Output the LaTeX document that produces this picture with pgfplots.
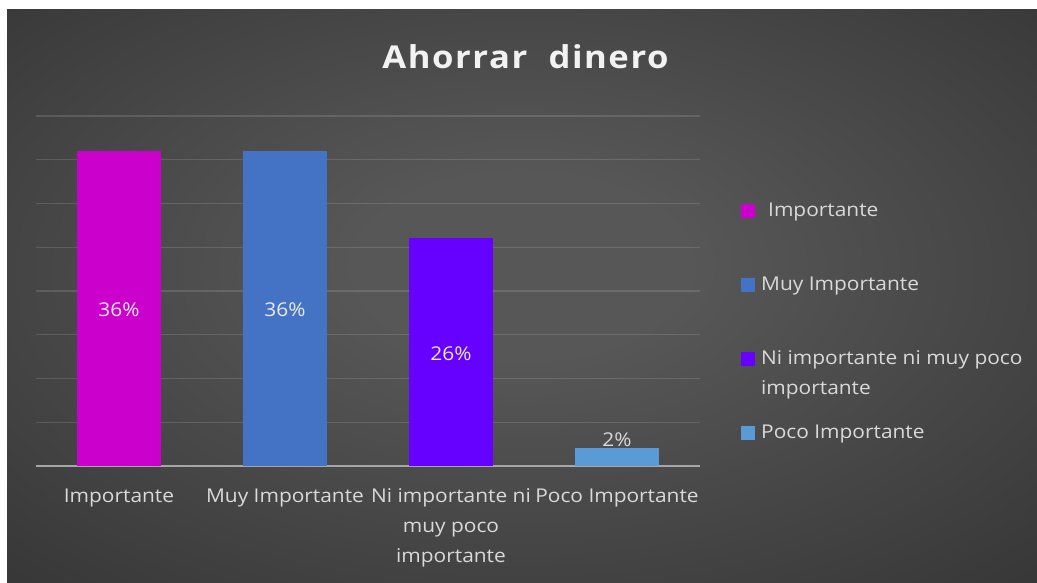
\documentclass[border=0pt]{standalone}
\usepackage{fontspec}
\setmainfont{Open Sans}[FakeStretch=1.1]
\newfontfamily\titlefont{Open Sans}[FakeStretch=1.1, LetterSpace=5]
\usepackage{pgfplots}
\pgfplotsset{compat=1.18}
\definecolor{cImp}{HTML}{CC00CC}
\definecolor{cMuy}{HTML}{4472C4}
\definecolor{cNi}{HTML}{6600FF}
\definecolor{cPoco}{HTML}{5B9BD5}
\definecolor{lbl}{HTML}{D9D9D9}
\definecolor{bgin}{HTML}{575757}
\definecolor{bgout}{HTML}{262626}
\definecolor{axln}{HTML}{A6A6A6}
\pgfdeclareradialshading{bgshade}{\pgfpoint{0bp}{3bp}}{color(0bp)=(bgin); color(8bp)=(bgin); color(52bp)=(bgout); color(80bp)=(bgout)}
\pgfplotsset{sq/.style={legend image code/.code={\fill[##1] (0bp,-7bp) rectangle (14bp,7bp);}}}
\newcommand\lblfont{\fontsize{19bp}{30bp}\selectfont}
\begin{document}
\begin{tikzpicture}
\fill[white] (0,0) rectangle (1037bp,583bp);
\shade[shading=bgshade] (7bp,0) rectangle (1037bp,573bp);
\node[anchor=base, text=white!95!black, font=\titlefont\bfseries\fontsize{31.5bp}{36bp}\selectfont] at (525.5bp,514bp) {Ahorrar\ \ dinero};
\begin{axis}[
  at={(36bp,117bp)}, anchor=south west,
  scale only axis, width=664bp, height=350bp,
  xmin=-0.5, xmax=3.5, ymin=0, ymax=40,
  axis line style={draw=none},
  ytick={5,10,...,40}, yticklabels={},
  ymajorgrids, grid style={white, opacity=0.13, line width=1.2bp},
  extra y ticks={0}, extra y tick labels={},
  extra y tick style={grid=major, grid style={axln, opacity=1, line width=1.6bp}},
  major tick length=0pt,
  xtick={0,1,2,3},
  xticklabels={Importante, Muy Importante, {Ni importante ni\\muy poco\\importante}, Poco Importante},
  xticklabel style={font=\lblfont, text=lbl, align=center, yshift=-19bp},
  clip=false,
  legend style={at={(1,1)}, anchor=north west, xshift=41bp, yshift=-87bp,
    draw=none, fill=none, inner sep=0pt, row sep=59bp, column sep=6bp,
    font=\lblfont, text=lbl, nodes={inner sep=0pt}},
  legend cell align=left,
]
\addplot[ybar, bar width=84bp, bar shift=0pt, fill=cImp, draw=none, sq] coordinates {(0,36)};
\addlegendentry{\hspace{7bp}Importante}
\addplot[ybar, bar width=84bp, bar shift=0pt, fill=cMuy, draw=none, sq] coordinates {(1,36)};
\addlegendentry{Muy Importante}
\addplot[ybar, bar width=84bp, bar shift=0pt, fill=cNi, draw=none, sq] coordinates {(2,26)};
\addlegendentry{\vphantom{Ip}\smash{\begin{tabular}[t]{@{}l@{}}Ni importante ni muy poco\\importante\end{tabular}}}
\addplot[ybar, bar width=84bp, bar shift=0pt, fill=cPoco, draw=none, sq] coordinates {(3,2)};
\addlegendentry{Poco Importante}
% data labels
\addplot[draw=none, mark=none, forget plot, nodes near coords, point meta=explicit symbolic,
  every node near coord/.style={anchor=center, yshift=-1bp, font=\lblfont, text=white!92!black}]
  coordinates {(0,18) [36\%] (1,18) [36\%] (2,13) [26\%]};
\addplot[draw=none, mark=none, forget plot, nodes near coords, point meta=explicit symbolic,
  every node near coord/.style={anchor=south, inner sep=2bp, font=\lblfont, text=lbl}]
  coordinates {(3,2) [2\%]};
\end{axis}
\end{tikzpicture}
\end{document}
